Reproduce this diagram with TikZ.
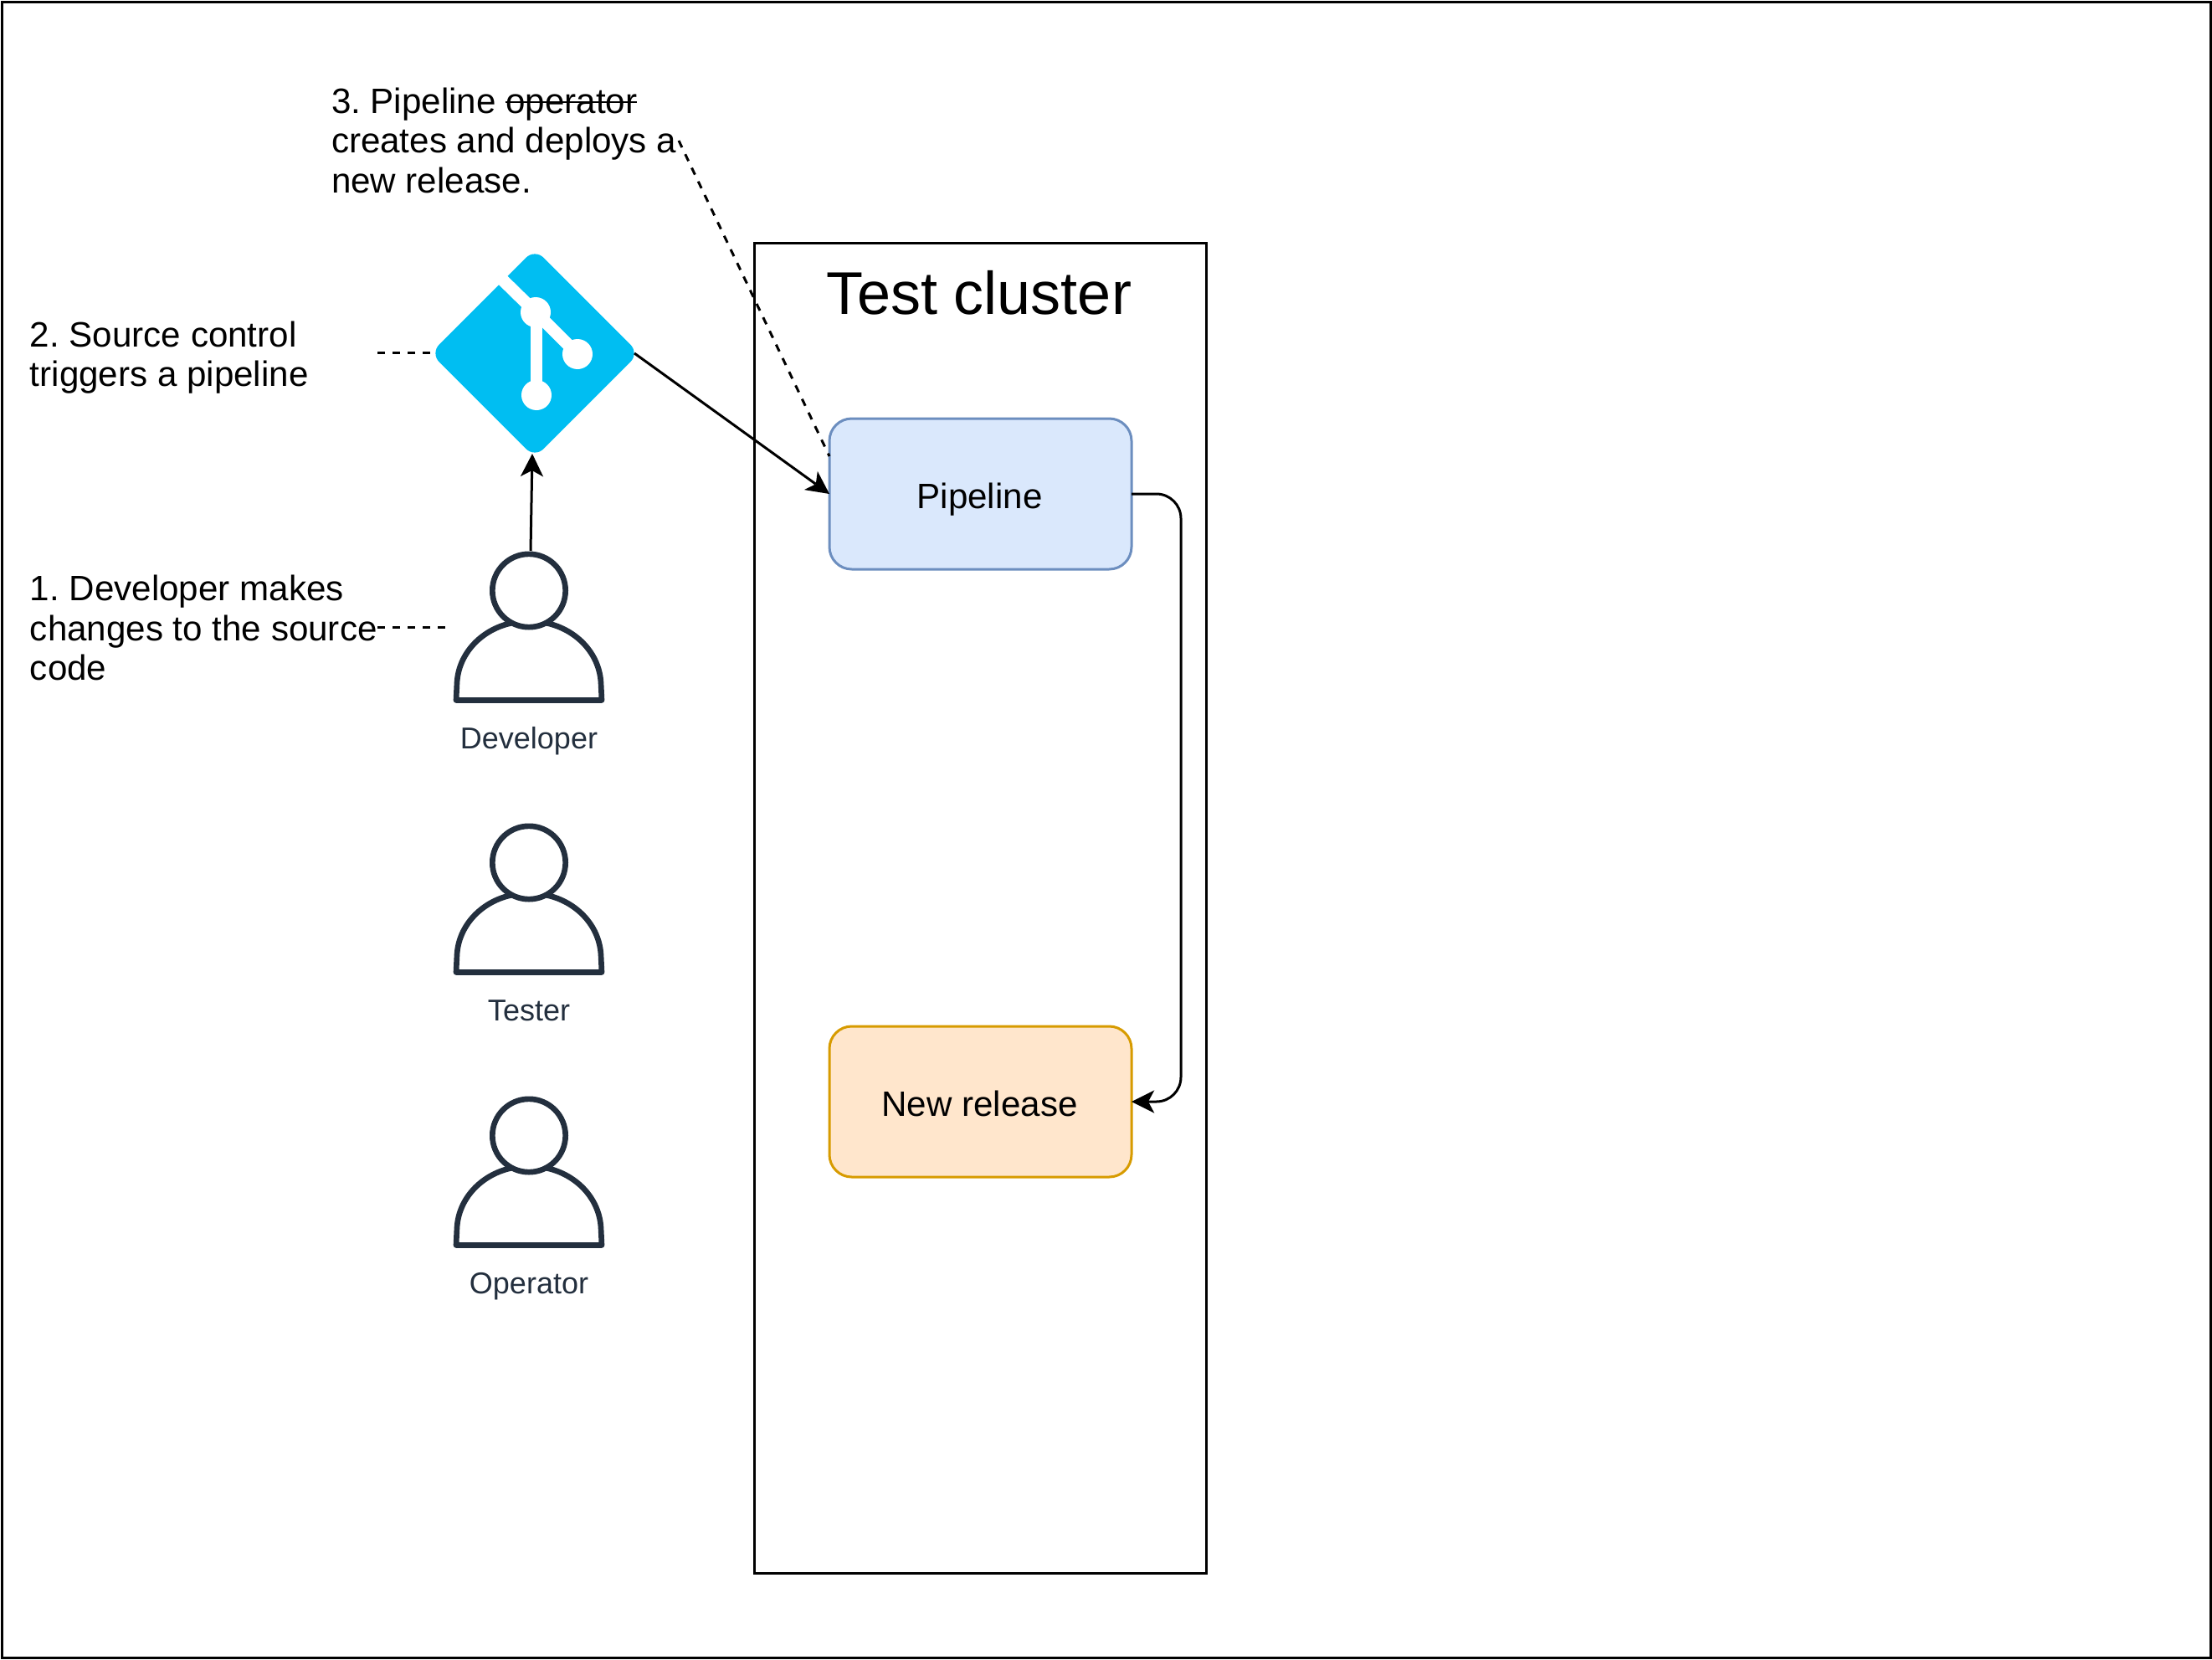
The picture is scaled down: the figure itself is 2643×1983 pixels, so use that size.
\documentclass[tikz,border=0pt]{standalone}
\usepackage{fontspec}
\setmainfont{Liberation Sans}
\usetikzlibrary{arrows.meta,shapes.geometric}
\definecolor{awsink}{HTML}{232F3E}
\definecolor{gitblue}{HTML}{00BEF2}
\definecolor{pipefill}{HTML}{DAE8FC}
\definecolor{pipeline}{HTML}{6C8EBF}
\definecolor{relfill}{HTML}{FFE6CC}
\definecolor{relline}{HTML}{D79B00}
\newcommand\strikeword[1]{\setbox0\hbox{#1}\rlap{\rule[0.29em]{\wd0}{0.055em}}#1}
\tikzset{
  x=0.75pt,y=-0.75pt,
  wire/.style={line width=2.25pt,draw=black},
  flow/.style={wire,-{Stealth[length=20.5pt,width=20.5pt,inset=5.5pt,line width=0pt]}},
  hint/.style={wire,dash pattern=on 6.75pt off 6.75pt},
  note/.style={anchor=north west,inner sep=0pt,outer sep=0pt,align=left,font=\fontsize{31.6}{35.6}\selectfont\frenchspacing},
  boxlabel/.style={font=\fontsize{31.6}{36}\selectfont},
  stagebox/.style={rectangle,rounded corners=20pt,line width=2.25pt,minimum width=270.75pt,minimum height=135pt,inner sep=0pt,outer sep=0pt},
  stagetext/.style={boxlabel,inner sep=0pt,text height=21pt,text depth=0pt},
  personicon/.pic={
    \node[circle,draw=awsink,line width=5pt,minimum size=65.5pt,inner sep=0pt,outer sep=0pt] (-head) at (0,0) {};
    \draw[awsink,line width=5pt,line join=round,line cap=round]
      (-22,39) .. controls (-57,47) and (-84,75) .. (-86,110) -- (-87,131) -- (87,131) -- (86,110)
      .. controls (84,75) and (57,47) .. (22,39);
    \node[text=awsink,font=\fontsize{27}{32}\selectfont,inner sep=0pt,text height=20pt,text depth=0pt] (-label) at (0,175.5) {#1};
  }
}
\begin{document}
\begin{tikzpicture}
\useasboundingbox (0,0) rectangle (2643,1983);
\node[draw=black,line width=2.25pt,rectangle,minimum width=1979.25pt,minimum height=1484pt,inner sep=0pt,outer sep=0pt] (frame) at (1321.5,991.5) {};
\node[draw=black,line width=2.25pt,rectangle,minimum width=404.6pt,minimum height=1192pt,inner sep=0pt,outer sep=0pt] (cluster) at (1171.25,1085) {};
\node[font=\fontsize{54}{62}\selectfont,inner sep=0pt] (clustertitle) at (1170,350) {Test cluster};

\node[stagebox,draw=pipeline,fill=pipefill] (pipe) at (1171.5,590) {};
\node[stagetext] (pipetext) at (1170.5,593) {Pipeline};
\node[stagebox,draw=relline,fill=relfill] (release) at (1171.5,1316) {};
\node[stagetext] (releasetext) at (1170.5,1319) {New release};

% git logo
\node[diamond,aspect=1,fill=gitblue,rounded corners=11pt,minimum size=187pt,inner sep=0pt,outer sep=0pt] (git) at (639,422) {};
\coordinate (gitjoint) at (640,373);
\coordinate (gitright) at (690,423);
\coordinate (gitfoot) at (641,472);
\coordinate (gitedge) at (590,324);
\draw[white,line width=11pt] (gitedge) -- (gitjoint) -- (gitright);
\draw[white,line width=11pt] (641,373) -- (gitfoot);
\fill[white] (gitjoint) circle (18);
\fill[white] (gitright) circle (18);
\fill[white] (gitfoot) circle (18);

\pic (dev) at (632,705.5) {personicon=Developer};
\pic (tester) at (632,1030.5) {personicon=Tester};
\pic (operator) at (632,1356.5) {personicon=Operator};

\node[note] (note1) at (36,687) {1. Developer makes\\changes to the source\\code};
\node[note] (note2) at (36,384) {2. Source control\\triggers a pipeline};
\node[note] (note3) at (396,105) {3. Pipeline \strikeword{operator}\\creates and deploys a\\new release.};

\coordinate (devtop) at (634,658);
\coordinate (gitbase) at (636,542);
\draw[flow] (devtop) -- (gitbase);
\coordinate (gitout) at (758,422);
\draw[flow] (gitout) -- (pipe.west);
\coordinate (routeA) at (1411,590);
\coordinate (routeB) at (1411,1316);
\draw[flow,rounded corners=22pt] (pipe.east) -- (routeA) -- (routeB) -- (release.east);

\coordinate (hint1a) at (451,749);
\coordinate (hint1b) at (533,749);
\coordinate (hint2a) at (451,421);
\coordinate (hint2b) at (515,421);
\coordinate (hint3a) at (811,168);
\coordinate (hint3b) at (991,545);
\draw[hint] (hint1a) -- (hint1b);
\draw[hint] (hint2a) -- (hint2b);
\draw[hint] (hint3a) -- (hint3b);
\end{tikzpicture}
\end{document}
